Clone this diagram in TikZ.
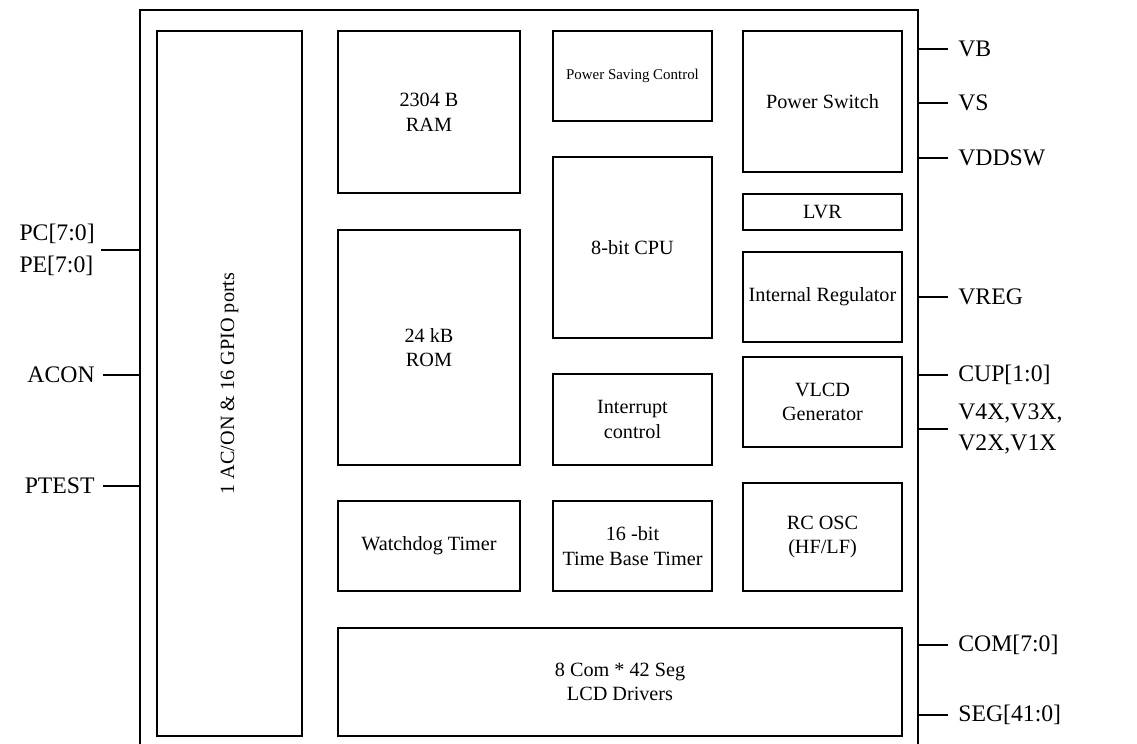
\documentclass[tikz,border=0pt]{standalone}
\usepackage{fontspec}
\setmainfont{Liberation Serif}
\usepackage{tikz}
\usetikzlibrary{positioning}

\begin{document}
\begin{tikzpicture}[
      x=0.02cm, y=-0.02cm,
      every node/.append style={font=\fontsize{11.5}{14}\selectfont},
      blk/.style={rectangle, draw, line width=0.8pt, align=center,
                  inner sep=0pt, minimum width=3.18cm, minimum height=1.8cm},
      wblk/.style={blk, minimum width=3.64cm},
      pinlbl/.style={align=left, inner sep=0pt,
                     font=\fontsize{13.5}{18}\selectfont},
      wire/.style={draw, line width=0.8pt},
    ]
      \useasboundingbox (0,0) rectangle (1137,744);

      % chip outline, bottom edge runs off the page
      \node[blk, minimum width=15.56cm, minimum height=15.2cm] (CHIP) at (529,390) {};

      \node[blk, rotate=90, minimum width=14.1cm, minimum height=2.9cm] (GPIO) at (229.5,383.5) {1 AC/ON \& 16 GPIO ports};

      \node[wblk, minimum height=3.24cm] (RAM) at (429,112) {2304 B\\RAM};
      \node[wblk, minimum height=4.7cm] (ROM) at (429,347.5) {24 kB\\ROM};
      \node[wblk] (WDT) at (429,546) {Watchdog Timer};

      \node[blk, font=\fontsize{8.5}{10}\selectfont] (PSC) at (632.5,76) {Power Saving Control};
      \node[blk, minimum height=3.62cm] (CPU) at (632.5,247.5) {8-bit CPU};
      \node[blk, minimum height=1.82cm] (INT) at (632.5,419.5) {Interrupt\\control};
      \node[blk] (TBT) at (632.5,546) {16 -bit\\Time Base Timer};

      \node[blk, minimum height=2.82cm] (PSW) at (822.5,101.5) {Power Switch};
      \node[blk, minimum height=0.72cm] (LVR) at (822.5,212) {LVR};
      \node[blk] (REG) at (822.5,297) {Internal Regulator};
      \node[blk] (VLCD) at (822.5,402) {VLCD\\Generator};
      \node[blk, minimum height=2.16cm] (OSC) at (822.5,537) {RC OSC\\(HF/LF)};

      \node[blk, minimum width=11.28cm, minimum height=2.16cm] (LCD) at (620,682) {8 Com * 42 Seg\\LCD Drivers};

      % left pins
      \node[pinlbl, anchor=east] (PC) at (95,250) {PC[7:0]\\PE[7:0]};
      \node[pinlbl, anchor=east] (ACON) at (95,375) {ACON};
      \node[pinlbl, anchor=east] (PTEST) at (95,486) {PTEST};

      \draw[wire] ([xshift=0.12cm]PC.east) -- (PC.east -| CHIP.west);
      \draw[wire] ([xshift=0.16cm]ACON.east) -- (ACON.east -| CHIP.west);
      \draw[wire] ([xshift=0.16cm]PTEST.east) -- (PTEST.east -| CHIP.west);

      % right pins
      \node[pinlbl, anchor=west] (VB) at (958,49) {VB};
      \node[pinlbl, anchor=west] (VS) at (958,103) {VS};
      \node[pinlbl, anchor=west] (VDDSW) at (958,158) {VDDSW};
      \node[pinlbl, anchor=west] (VREG) at (958,297) {VREG};
      \node[pinlbl, anchor=west] (CUP) at (958,375) {CUP[1:0]};
      \node[pinlbl, anchor=west] (VX) at (958,429) {V4X,V3X,\\V2X,V1X};
      \node[pinlbl, anchor=west] (COM) at (958,645) {COM[7:0]};
      \node[pinlbl, anchor=west] (SEG) at (958,715) {SEG[41:0]};

      \foreach \p in {VB, VS, VDDSW, VREG, CUP, VX, COM, SEG}
        \draw[wire] (\p.west -| CHIP.east) -- ([xshift=-0.2cm]\p.west);
    \end{tikzpicture}
\end{document}
